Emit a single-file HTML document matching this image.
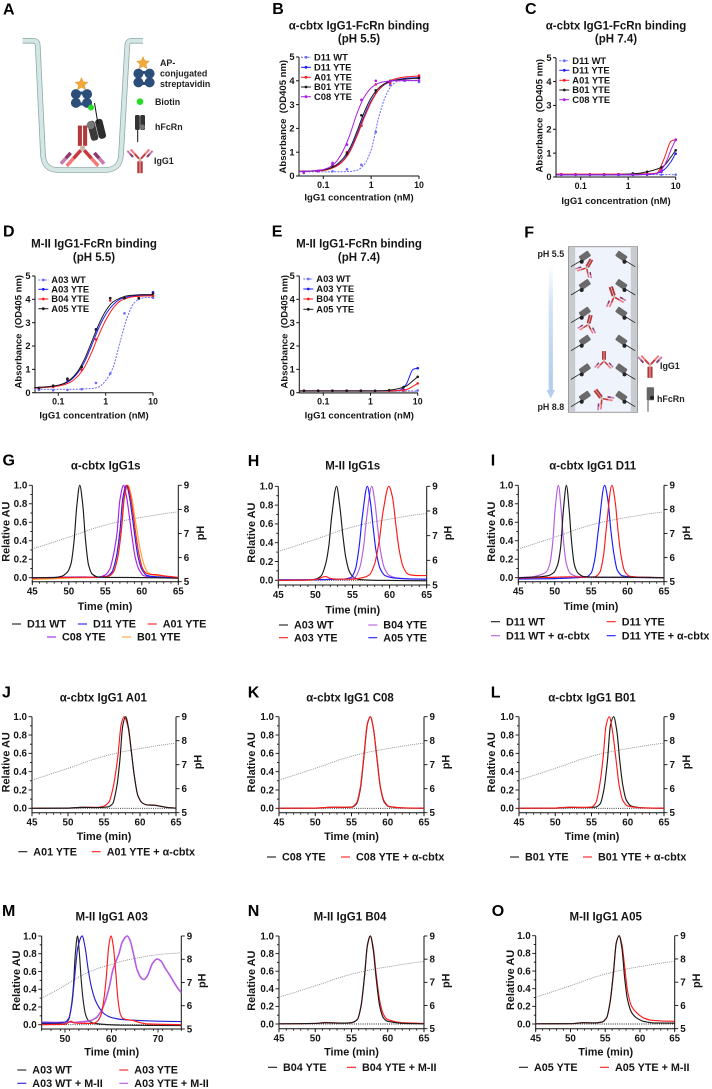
<!DOCTYPE html>
<html lang="en">
<head>
<meta charset="utf-8">
<title>IgG1-FcRn binding and FcRn affinity chromatography figure</title>
<style>
html,body{margin:0;padding:0;background:#fff;}
svg{display:block;font-family:"Liberation Sans",sans-serif;filter:blur(0.3px);}
text{font-weight:bold;fill:#151515;}
.letter{font-size:16px;fill:#000;}
.title{font-size:11.5px;text-anchor:middle;}
.axt{font-size:10.9px;text-anchor:middle;}
.axb{font-size:9.5px;text-anchor:middle;}
.ill{font-size:8.9px;fill:#222;}
</style>
</head>
<body>
<svg id="fig" width="712" height="1089" viewBox="0 0 712 1089" xmlns="http://www.w3.org/2000/svg">
<defs>
  <g id="igg-shape">
    <rect x="-3.2" y="1.5" width="2.8" height="14" fill="#b5383a"/>
    <rect x="0.4" y="1.5" width="2.8" height="14" fill="#b5383a"/>
    <rect x="-1.6" y="-2" width="3.2" height="3.5" fill="#c9b8a8"/>
    <g transform="rotate(-42)">
      <rect x="-1" y="-9.5" width="2.4" height="7.5" fill="#c63a3e"/><rect x="-1" y="-16.5" width="2.4" height="7" fill="#f47a78"/>
      <rect x="-5" y="-13" width="2.4" height="5" fill="#8a3a70"/><rect x="-5" y="-18" width="2.4" height="5" fill="#c77ab0"/>
    </g>
    <g transform="rotate(42)">
      <rect x="-1.4" y="-9.5" width="2.4" height="7.5" fill="#c63a3e"/><rect x="-1.4" y="-16.5" width="2.4" height="7" fill="#f47a78"/>
      <rect x="2.6" y="-13" width="2.4" height="5" fill="#8a3a70"/><rect x="2.6" y="-18" width="2.4" height="5" fill="#c77ab0"/>
    </g>
  </g>
  <g id="strep-shape" fill="#2b4f7a">
    <circle cx="-5.6" cy="-4.4" r="5"/><circle cx="5.6" cy="-4.4" r="5"/>
    <circle cx="-5.6" cy="4.4" r="5"/><circle cx="5.6" cy="4.4" r="5"/>
    <rect x="-1.8" y="-7" width="3.6" height="3" /><rect x="-1.8" y="4" width="3.6" height="3"/>
  </g>
  <polygon id="star-shape" points="0,-6.4 1.9,-2.2 6.4,-1.8 3,1.2 4,5.6 0,3.3 -4,5.6 -3,1.2 -6.4,-1.8 -1.9,-2.2" fill="#f2a93b" stroke="#d08a20" stroke-width=".4"/>
  <g id="receptor-shape">
    <line x1="-10.7" y1="6.7" x2="2" y2="-1" stroke="#222" stroke-width=".8"/>
    <rect x="-2.5" y="-7" width="11" height="6.4" rx="1" fill="#6a6a6a" transform="rotate(-35 3 -4)"/>
    <circle cx="0" cy="1.7" r="2" fill="#222"/>
  </g>
  <linearGradient id="ph-arrow-gradient" x1="0" y1="0" x2="0" y2="1">
    <stop offset="0" stop-color="#ffffff"/><stop offset=".35" stop-color="#d6e4f7"/><stop offset="1" stop-color="#b5cef0"/>
  </linearGradient>
</defs>

<!-- Panel letters -->
<text class="letter" x="3" y="14.3">A</text>
<text class="letter" x="272.3" y="14">B</text>
<text class="letter" x="525" y="14">C</text>
<text class="letter" x="3" y="236.7">D</text>
<text class="letter" x="271.7" y="236.7">E</text>
<text class="letter" x="524.3" y="237.3">F</text>
<text class="letter" x="2.5" y="465.7">G</text>
<text class="letter" x="247.7" y="466">H</text>
<text class="letter" x="490.7" y="465.7">I</text>
<text class="letter" x="2" y="697.7">J</text>
<text class="letter" x="247.7" y="697.7">K</text>
<text class="letter" x="490.7" y="697.7">L</text>
<text class="letter" x="2" y="916">M</text>
<text class="letter" x="247.7" y="916">N</text>
<text class="letter" x="491.7" y="916">O</text>

<!-- Panel A illustration -->
<g id="panel-a">
  <path d="M22.5,40.8 L33,40.8 Q37.5,40.8 37.7,45 L43,155 Q44,170 58,170 L105,170 Q120,170 121,155 L127.3,45 Q127.5,40.8 132,40.8 L143,40.8" fill="none" stroke="#8fa9a7" stroke-width="5.6"/>
  <path d="M22.5,40.8 L33,40.8 Q37.5,40.8 37.7,45 L43,155 Q44,170 58,170 L105,170 Q120,170 121,155 L127.3,45 Q127.5,40.8 132,40.8 L143,40.8" fill="none" stroke="#d4e7e4" stroke-width="4"/>
  <use href="#igg-shape" transform="translate(82.5,148) rotate(180) scale(1.45)"/>
  <g transform="rotate(-14 96 130)">
    <rect x="89" y="120" width="7.5" height="20" rx="3" fill="#3a3a3a"/>
    <rect x="97" y="120" width="7.5" height="20" rx="3" fill="#2d2d2d"/>
    <circle cx="92" cy="124" r="4" fill="#777"/>
  </g>
  <line x1="94.5" y1="103" x2="98" y2="124" stroke="#111" stroke-width="1"/>
  <use href="#strep-shape" transform="translate(81.5,98.5)"/>
  <use href="#star-shape" transform="translate(81.5,84)"/>
  <circle cx="91" cy="107.5" r="3" fill="#22dd22"/>

  <use href="#strep-shape" transform="translate(144,78)"/>
  <use href="#star-shape" transform="translate(143,63)"/>
  <text class="ill" x="160" y="66">AP-</text>
  <text class="ill" x="160" y="76.5">conjugated</text>
  <text class="ill" x="160" y="87">streptavidin</text>
  <circle cx="140" cy="101.7" r="3.3" fill="#22dd22"/>
  <text class="ill" x="155" y="105">Biotin</text>
  <g>
    <rect x="135" y="115" width="4.8" height="15" rx="1.5" fill="#333"/>
    <rect x="140.2" y="115" width="4.8" height="15" rx="1.5" fill="#333"/>
    <circle cx="142.3" cy="127" r="2.6" fill="#777"/>
    <line x1="137.7" y1="130" x2="137.7" y2="142" stroke="#111" stroke-width="1"/>
  </g>
  <text class="ill" x="155" y="130">hFcRn</text>
  <use href="#igg-shape" transform="translate(140,160) scale(.85)"/>
  <text class="ill" x="154" y="164">IgG1</text>
</g>

<!-- Panel F illustration -->
<g id="panel-f">
  <rect x="568.5" y="246.7" width="69" height="165.6" fill="#eff3fc" stroke="#9a9a9a" stroke-width="1"/>
  <rect x="569" y="247.2" width="6.2" height="164.6" fill="#c8ccd0"/>
  <rect x="630.8" y="247.2" width="6.2" height="164.6" fill="#c8ccd0"/>
  <use href="#receptor-shape" transform="translate(581.7,260)"/>
  <use href="#receptor-shape" transform="translate(581.7,288.3)"/>
  <use href="#receptor-shape" transform="translate(581.7,316)"/>
  <use href="#receptor-shape" transform="translate(581.7,344)"/>
  <use href="#receptor-shape" transform="translate(581.7,372.7)"/>
  <use href="#receptor-shape" transform="translate(581.7,400)"/>
  <use href="#receptor-shape" transform="translate(624.5,260) scale(-1,1)"/>
  <use href="#receptor-shape" transform="translate(624.5,288.3) scale(-1,1)"/>
  <use href="#receptor-shape" transform="translate(624.5,316) scale(-1,1)"/>
  <use href="#receptor-shape" transform="translate(624.5,344) scale(-1,1)"/>
  <use href="#receptor-shape" transform="translate(624.5,372.7) scale(-1,1)"/>
  <use href="#receptor-shape" transform="translate(624.5,400) scale(-1,1)"/>
  <use href="#igg-shape" transform="translate(586.7,267.7) rotate(210) scale(.62)"/>
  <use href="#igg-shape" transform="translate(614,296.7) rotate(162) scale(.68)"/>
  <use href="#igg-shape" transform="translate(588.3,324.3) rotate(195) scale(.62)"/>
  <use href="#igg-shape" transform="translate(604,360.7) rotate(180) scale(.62)"/>
  <use href="#igg-shape" transform="translate(601.7,398.3) rotate(143) scale(.68)"/>
  <rect x="548.7" y="264" width="4.2" height="112" fill="url(#ph-arrow-gradient)"/>
  <polygon points="546.5,390 555,390 550.8,398.5" fill="#b5cef0"/>
  <rect x="548.7" y="375" width="4.2" height="16" fill="#b5cef0"/>
  <text class="ill" x="537.5" y="257">pH 5.5</text>
  <text class="ill" x="537.5" y="410">pH 8.8</text>
  <use href="#igg-shape" transform="translate(650,365.5) scale(.8)"/>
  <text class="ill" x="660" y="369">IgG1</text>
  <g>
    <rect x="646.7" y="387.3" width="7.3" height="13" rx="1" fill="#666"/>
    <circle cx="652" cy="397.7" r="2" fill="#222"/>
    <line x1="648" y1="400" x2="648" y2="411.7" stroke="#555" stroke-width="1"/>
  </g>
  <text class="ill" x="657" y="402">hFcRn</text>
</g>

<!-- Chart titles -->
<text class="title" x="359" y="29.3">α-cbtx IgG1-FcRn binding</text>
<text class="title" x="359" y="42.7">(pH 5.5)</text>
<text class="title" x="616" y="29.3">α-cbtx IgG1-FcRn binding</text>
<text class="title" x="616" y="42.7">(pH 7.4)</text>
<text class="title" x="94" y="247.3">M-II IgG1-FcRn binding</text>
<text class="title" x="94" y="261">(pH 5.5)</text>
<text class="title" x="359" y="247.3">M-II IgG1-FcRn binding</text>
<text class="title" x="359" y="261">(pH 7.4)</text>
<text class="title" x="105.7" y="469.3">α-cbtx IgG1s</text>
<text class="title" x="352.7" y="469.3">M-II IgG1s</text>
<text class="title" x="592.7" y="469.3">α-cbtx IgG1 D11</text>
<text class="title" x="103.3" y="701.7">α-cbtx IgG1 A01</text>
<text class="title" x="350" y="701.7">α-cbtx IgG1 C08</text>
<text class="title" x="592" y="701.7">α-cbtx IgG1 B01</text>
<text class="title" x="111.7" y="920.7">M-II IgG1 A03</text>
<text class="title" x="350" y="920.7">M-II IgG1 B04</text>
<text class="title" x="605.7" y="920.7">M-II IgG1 A05</text>

<!-- Binding axis titles -->
<text class="axb" x="359" y="200.7">IgG1 concentration (nM)</text>
<text class="axb" x="616" y="204">IgG1 concentration (nM)</text>
<text class="axb" x="94" y="418.3">IgG1 concentration (nM)</text>
<text class="axb" x="359.3" y="418.3">IgG1 concentration (nM)</text>
<text class="axb" transform="translate(286,116.7) rotate(-90)" xml:space="preserve">Absorbance  (OD405 nm)</text>
<text class="axb" transform="translate(542.7,115.7) rotate(-90)" xml:space="preserve">Absorbance  (OD405 nm)</text>
<text class="axb" transform="translate(21.7,331.7) rotate(-90)" xml:space="preserve">Absorbance  (OD405 nm)</text>
<text class="axb" transform="translate(287.7,331.7) rotate(-90)" xml:space="preserve">Absorbance  (OD405 nm)</text>

<!-- Chromatogram axis titles -->
<text class="axt" x="105" y="610">Time (min)</text>
<text class="axt" x="352.7" y="613.3">Time (min)</text>
<text class="axt" x="591" y="610">Time (min)</text>
<text class="axt" x="104" y="840">Time (min)</text>
<text class="axt" x="351.5" y="840">Time (min)</text>
<text class="axt" x="592" y="840">Time (min)</text>
<text class="axt" x="111.7" y="1055.7">Time (min)</text>
<text class="axt" x="351.5" y="1055.7">Time (min)</text>
<text class="axt" x="605.7" y="1055.7">Time (min)</text>

<text class="axt" transform="translate(9.3,531.7) rotate(-90)">Relative AU</text>
<text class="axt" transform="translate(255,532.7) rotate(-90)">Relative AU</text>
<text class="axt" transform="translate(495,531.7) rotate(-90)">Relative AU</text>
<text class="axt" transform="translate(9.3,762.3) rotate(-90)">Relative AU</text>
<text class="axt" transform="translate(255,762.3) rotate(-90)">Relative AU</text>
<text class="axt" transform="translate(495,762.3) rotate(-90)">Relative AU</text>
<text class="axt" transform="translate(20,980.7) rotate(-90)">Relative AU</text>
<text class="axt" transform="translate(255,980.7) rotate(-90)">Relative AU</text>
<text class="axt" transform="translate(514,980) rotate(-90)">Relative AU</text>

<text class="axt" transform="translate(204,533) rotate(-90)">pH</text>
<text class="axt" transform="translate(451.7,533) rotate(-90)">pH</text>
<text class="axt" transform="translate(690,533) rotate(-90)">pH</text>
<text class="axt" transform="translate(201.7,762) rotate(-90)">pH</text>
<text class="axt" transform="translate(449.5,762) rotate(-90)">pH</text>
<text class="axt" transform="translate(690,762) rotate(-90)">pH</text>
<text class="axt" transform="translate(205.7,980.7) rotate(-90)">pH</text>
<text class="axt" transform="translate(449.5,980.7) rotate(-90)">pH</text>
<text class="axt" transform="translate(700,980.7) rotate(-90)">pH</text>
</svg>

<script>
/* ---------- Binding data ---------- */
const concentrations = [0.039,0.078,0.156,0.3125,0.625,1.25,2.5,5,10];
const fitConcentrations = [0.031,0.044,0.0625,0.088,0.125,0.177,0.25,0.354,0.5,0.707,1,1.414,2,2.83,4,5.66,8,10];
const bindingXTicks = [0.1,1,10];
const bindingXTickLabels = ['0.1','1','10'];
const bindingYTicks = [0,1,2,3,4,5];

const namesB = ['D11 WT','D11 YTE','A01 YTE','B01 YTE','C08 YTE'];
const pointsB_WT  = [.13,.22,.2,.28,.47,1.85,3.82,4.0,3.95];
const pointsB_D11 = [.15,.2,.5,.88,2.12,3.5,3.95,4.02,4.15];
const pointsB_A01 = [.18,.22,.45,1.0,2.12,3.85,3.9,4.05,4.22];
const pointsB_B01 = [.15,.2,.4,.95,2.55,3.6,4.0,4.05,4.12];
const pointsB_C08 = [.15,.2,.55,1.32,3.2,4.0,3.98,4.02,4.02];
const fitB_WT  = [.18,.18,.18,.18,.18,.18,.18,.19,.24,.46,1.1,2.4,3.35,3.85,4.0,4.0,4.0,4.0];
const fitB_D11 = [.19,.2,.21,.23,.28,.4,.62,1.05,1.72,2.5,3.15,3.6,3.87,4.0,4.07,4.11,4.13,4.14];
const fitB_A01 = [.19,.2,.21,.22,.27,.38,.6,1.0,1.65,2.42,3.1,3.6,3.9,4.05,4.13,4.17,4.19,4.2];
const fitB_B01 = [.2,.2,.22,.24,.3,.44,.7,1.15,1.85,2.65,3.28,3.68,3.9,4.0,4.05,4.08,4.1,4.1];
const fitB_C08 = [.19,.2,.22,.25,.34,.55,1.0,1.7,2.6,3.3,3.7,3.9,3.97,4.0,4.0,4.02,4.02,4.02];

const namesC = ['D11 WT','D11 YTE','A01 YTE','B01 YTE','C08 YTE'];
const pointsC_WT  = [.1,.1,.1,.1,.1,.1,.1,.1,.1];
const pointsC_D11 = [.09,.09,.09,.09,.09,.09,.1,.22,.98];
const pointsC_A01 = [.12,.12,.12,.12,.12,.13,.14,.3,1.57];
const pointsC_B01 = [.1,.1,.1,.1,.11,.15,.22,.4,1.12];
const pointsC_C08 = [.1,.1,.1,.1,.1,.1,.12,.25,1.55];
const fitC_WT  = [.1,.1,.1,.1,.1,.1,.1,.1,.1,.1,.1,.1,.1,.1,.1,.1,.1,.1];
const fitC_D11 = [.09,.09,.09,.09,.09,.09,.09,.09,.09,.09,.09,.09,.1,.11,.15,.3,.65,1.0];
const fitC_A01 = [.12,.12,.12,.12,.12,.12,.12,.12,.12,.12,.12,.12,.13,.14,.17,.75,1.5,1.57];
const fitC_B01 = [.1,.1,.1,.1,.1,.1,.1,.1,.1,.11,.12,.14,.18,.24,.33,.47,.85,1.12];
const fitC_C08 = [.1,.1,.1,.1,.1,.1,.1,.1,.1,.1,.1,.1,.11,.12,.15,.45,1.15,1.57];

const namesD = ['A03 WT','A03 YTE','B04 YTE','A05 YTE'];
const pointsD_WT  = [.12,.1,.12,.15,.42,.82,3.4,4.02,4.07];
const pointsD_A03 = [.2,.3,.55,1.12,2.72,4.05,4.05,4.05,4.3];
const pointsD_B04 = [.2,.25,.6,.98,2.28,3.95,4.05,4.05,4.15];
const pointsD_A05 = [.2,.3,.6,1.1,2.7,4.05,4.05,4.05,4.25];
const fitD_WT  = [.15,.15,.15,.15,.15,.15,.15,.16,.18,.24,.52,1.05,2.15,3.2,3.85,4.05,4.08,4.08];
const fitD_A03 = [.2,.22,.24,.28,.36,.52,.82,1.3,2.0,2.75,3.35,3.75,4.0,4.1,4.15,4.17,4.18,4.18];
const fitD_B04 = [.2,.22,.24,.27,.33,.44,.68,1.08,1.7,2.45,3.1,3.6,3.92,4.05,4.12,4.14,4.15,4.15];
const fitD_A05 = [.22,.24,.26,.3,.38,.56,.88,1.42,2.15,2.9,3.5,3.88,4.05,4.15,4.18,4.2,4.2,4.2];

const namesE = ['A03 WT','A03 YTE','B04 YTE','A05 YTE'];
const pointsE_WT  = [.09,.09,.09,.09,.09,.08,.09,.09,.1];
const pointsE_A03 = [.08,.08,.08,.08,.08,.08,.09,.13,1.05];
const pointsE_B04 = [.08,.08,.08,.08,.08,.08,.08,.1,.4];
const pointsE_A05 = [.08,.08,.08,.08,.08,.08,.11,.24,.68];
const fitE_WT  = [.08,.08,.08,.08,.08,.08,.08,.08,.08,.08,.08,.08,.08,.08,.08,.08,.08,.08];
const fitE_A03 = [.08,.08,.08,.08,.08,.08,.08,.08,.08,.08,.08,.08,.08,.08,.1,.35,1.0,1.05];
const fitE_B04 = [.08,.08,.08,.08,.08,.08,.08,.08,.08,.08,.08,.08,.08,.08,.1,.13,.28,.4];
const fitE_A05 = [.08,.08,.08,.08,.08,.08,.08,.08,.08,.08,.08,.08,.09,.12,.18,.28,.52,.68];

/* ---------- Chromatogram data: [minutes, relative AU] ---------- */
const pHTimes = [45,47,49,51,53,55,57,59,61,63,65];
const pHValues = [6.36,6.55,6.75,6.95,7.17,7.35,7.5,7.62,7.72,7.82,7.9];
const pHTimesM = [45,48,51,54,57,60,63,66,70,75];
const pHValuesM = [6.33,6.65,7.0,7.35,7.6,7.78,7.95,8.07,8.2,8.28];
const timeTicks = [45,50,55,60,65];
const timeTicksM = [50,60,70];
const auTicks = [0,.2,.4,.6,.8,1];
const pHTicks = [5,6,7,8,9];

const namesG = ['B01 YTE','C08 YTE','D11 YTE','A01 YTE','D11 WT'];
const g_D11WT = [[45,0],[48,.002],[49,.015],[49.8,.06],[50.3,.15],[50.7,.38],[51.1,.78],[51.5,1],[51.9,.8],[52.3,.4],[52.7,.14],[53.2,.04],[54,.008],[56,.003],[60,.002],[65,-.005]];
const g_D11YTE = [[45,-.005],[52,.008],[54,.004],[55.2,.015],[55.9,.06],[56.5,.22],[57,.5],[57.4,.86],[57.9,1],[58.3,.88],[58.7,.66],[59.1,.42],[59.5,.22],[60,.09],[60.7,.025],[62,.01],[65,0]];
const g_A01 = [[45,-.005],[52,.006],[54,.004],[55.4,.015],[56.1,.06],[56.7,.22],[57.2,.52],[57.6,.88],[58,1],[58.4,.9],[58.8,.7],[59.2,.46],[59.6,.26],[60.1,.1],[60.6,.05],[61.2,.035],[62,.033],[63,.02],[64,.012],[65,.002]];
const g_C08 = [[45,0],[52,.006],[54,.006],[55,.03],[55.6,.09],[56.1,.24],[56.6,.48],[57,.84],[57.5,1],[57.9,.88],[58.3,.66],[58.7,.42],[59.1,.22],[59.6,.09],[60.3,.02],[61.5,.006],[65,0]];
const g_B01 = [[45,-.02],[50,-.005],[54,.005],[55.4,.015],[56.1,.06],[56.7,.22],[57.2,.5],[57.7,.9],[58.1,1],[58.6,.88],[59,.68],[59.4,.48],[59.8,.3],[60.3,.14],[60.8,.06],[61.5,.03],[63,.015],[65,.002]];

const namesH = ['A03 WT','B04 YTE','A05 YTE','A03 YTE'];
const h_A03WT = [[45,0],[49,.003],[50,.012],[50.8,.05],[51.4,.18],[51.8,.36],[52.2,.68],[52.85,1],[53.3,.78],[53.7,.48],[54.1,.24],[54.6,.09],[55.2,.03],[56,.008],[58,0],[65,-.005]];
const h_B04 = [[45,.005],[50,.006],[53,.012],[54.5,.015],[55.3,.03],[56,.14],[56.5,.36],[56.9,.66],[57.6,1],[58,.84],[58.4,.55],[58.8,.3],[59.3,.13],[60,.05],[61,.025],[63,.015],[65,.012]];
const h_A05 = [[45,.005],[50,.006],[53,.012],[54,.015],[54.8,.03],[55.4,.12],[55.9,.36],[56.3,.66],[57,1],[57.4,.84],[57.8,.55],[58.2,.3],[58.7,.13],[59.4,.05],[60.5,.025],[62.5,.015],[65,.012]];
const h_A03 = [[45,0],[49,.002],[50.3,.01],[51,.035],[51.4,.04],[52,.02],[53,.012],[55,.012],[56.5,.03],[57.3,.06],[58,.18],[58.6,.42],[59.1,.72],[59.9,1],[60.4,.88],[60.8,.62],[61.3,.32],[61.8,.15],[62.4,.07],[63,.055],[64,.05],[65,.05]];

const namesI = ['D11 WT','D11 YTE','D11 WT + α-cbtx','D11 YTE + α-cbtx'];
const i_WT = [[45,0],[48,.01],[49,.02],[49.8,.05],[50.4,.14],[50.8,.32],[51.2,.74],[51.6,1],[52,.72],[52.3,.4],[52.7,.14],[53.2,.05],[54,.012],[56,.005],[60,.005],[65,0]];
const i_YTE = [[45,-.005],[50,.005],[52,.01],[54,.006],[55.5,.01],[56.2,.06],[56.7,.24],[57.1,.55],[57.85,1],[58.3,.82],[58.7,.5],[59.1,.24],[59.6,.07],[60.3,.015],[62,.005],[65,.002]];
const i_WTplus = [[45,.002],[47,.01],[48,.03],[48.8,.06],[49.3,.14],[49.7,.36],[50.1,.78],[50.5,1],[50.9,.72],[51.2,.4],[51.6,.15],[52.1,.05],[53,.015],[54,.008],[56,.005],[65,0]];
const i_YTEplus = [[45,-.015],[50,-.01],[53,0],[54.3,.008],[55,.05],[55.5,.2],[56,.52],[56.85,1],[57.3,.84],[57.7,.52],[58.1,.27],[58.6,.08],[59.3,.02],[61,.005],[65,0]];

const namesJ = ['A01 YTE','A01 YTE + α-cbtx'];
const j_A01 = [[45,0],[50,.002],[52,.01],[54,.008],[55.5,.015],[56.2,.05],[56.8,.25],[57.2,.52],[57.6,.9],[58,1],[58.4,.88],[58.8,.62],[59.2,.36],[59.7,.14],[60.3,.06],[61,.037],[62,.033],[63,.02],[64,.007],[65,.002]];
const j_A01plus = [[45,.001],[50,.003],[52,.01],[54,.01],[55,.025],[55.7,.07],[56.3,.24],[56.9,.55],[57.4,.92],[57.8,1],[58.3,.9],[58.8,.62],[59.2,.36],[59.7,.14],[60.3,.06],[61,.037],[62,.035],[63,.02],[64,.008],[65,.002]];

const namesK = ['C08 YTE','C08 YTE + α-cbtx'];
const k_C08 = [[45,0],[50,.002],[52.5,.012],[54,.01],[55,.012],[55.7,.05],[56.2,.2],[56.7,.55],[57.2,.92],[57.6,1],[58,.88],[58.5,.55],[59,.22],[59.5,.07],[60.2,.018],[62,.004],[65,.001]];
const k_C08plus = [[45,.001],[50,.003],[52.5,.012],[54,.011],[55,.015],[55.7,.06],[56.2,.22],[56.7,.57],[57.2,.93],[57.6,1],[58,.88],[58.5,.56],[59,.23],[59.5,.08],[60.2,.02],[62,.005],[65,.001]];

const namesL = ['B01 YTE','B01 YTE + α-cbtx'];
const l_B01 = [[45,0],[50,.002],[52,.01],[54,.008],[55.5,.012],[56.2,.05],[56.7,.2],[57.2,.52],[57.6,.9],[58.05,1],[58.5,.84],[58.9,.52],[59.3,.26],[59.8,.09],[60.5,.025],[62,.005],[65,.001]];
const l_B01plus = [[45,.001],[50,.003],[52,.012],[54,.01],[55,.015],[55.6,.06],[56.1,.24],[56.6,.55],[57,.9],[57.45,1],[57.9,.84],[58.4,.52],[58.8,.26],[59.3,.09],[60,.025],[62,.005],[65,.001]];

const namesM = ['A03 WT','A03 YTE','A03 WT + M-II','A03 YTE + M-II'];
const m_WT = [[45,.01],[48,.012],[50,.02],[50.8,.06],[51.3,.18],[51.8,.42],[52.2,.78],[52.7,1],[53.1,.8],[53.5,.5],[53.9,.28],[54.4,.12],[55,.05],[56,.02],[58,.005],[62,-.005],[75,-.01]];
const m_WTplus = [[45,.02],[48,.02],[50,.03],[50.8,.07],[51.5,.24],[52.1,.55],[52.8,.88],[53.7,1],[54.3,.88],[55,.62],[55.7,.42],[56.5,.28],[57.5,.18],[58.5,.12],[60,.08],[62,.06],[65,.05],[70,.04],[75,.035]];
const m_YTE = [[45,0],[50,.005],[51.3,.04],[52,.02],[54,.015],[56,.015],[57,.04],[57.8,.12],[58.4,.3],[58.9,.55],[59.4,.88],[59.9,1],[60.4,.88],[60.9,.6],[61.4,.28],[61.9,.12],[62.5,.07],[63.5,.055],[64.5,.05],[66,.025],[68,.008],[75,0]];
const m_YTEplus = [[45,.03],[48,.025],[50,.025],[51,.03],[52,.025],[53,.03],[55,.04],[56.5,.07],[57.5,.13],[58.5,.24],[59.5,.42],[60.3,.62],[61,.72],[61.6,.8],[62.3,.93],[63.4,1],[64,.95],[64.8,.78],[65.5,.62],[66.5,.52],[67,.51],[67.8,.56],[68.8,.69],[69.8,.74],[70.6,.72],[71.5,.64],[72.5,.56],[74,.43],[75,.36]];

const namesN = ['B04 YTE','B04 YTE + M-II'];
const n_B04 = [[45,.002],[50,.006],[51.5,.015],[52.5,.012],[54,.01],[55,.015],[55.8,.05],[56.3,.2],[56.8,.55],[57.2,.9],[57.6,1],[58,.84],[58.4,.52],[58.9,.2],[59.4,.07],[60,.03],[62,.008],[65,.002]];
const n_B04plus = [[45,.002],[50,.006],[51.5,.017],[52.5,.013],[54,.011],[55,.016],[55.8,.05],[56.3,.19],[56.8,.54],[57.2,.89],[57.6,1],[58,.87],[58.4,.57],[58.9,.26],[59.4,.11],[60,.05],[62,.015],[65,.006]];

const namesO = ['A05 YTE','A05 YTE + M-II'];
const o_A05 = [[45,.002],[50,.004],[52,.015],[53.5,.012],[54.5,.02],[55.2,.07],[55.7,.25],[56.2,.6],[56.6,.92],[57,1],[57.4,.86],[57.8,.52],[58.2,.28],[58.8,.13],[59.5,.07],[60.5,.03],[62,.012],[65,.01]];
const o_A05plus = [[45,.002],[50,.004],[52,.015],[53.5,.012],[54.5,.022],[55.2,.07],[55.7,.24],[56.2,.58],[56.6,.92],[57,1],[57.4,.9],[57.8,.65],[58.2,.38],[58.8,.2],[59.5,.13],[60.5,.07],[61.5,.045],[63,.035],[65,.03]];

/* ---------- Drawing ---------- */
const NS = 'http://www.w3.org/2000/svg';
const fig = document.getElementById('fig');

function node(tag, name, attrs, parent) {
  const el = document.createElementNS(NS, tag);
  
  
  for (const k in attrs) { el.setAttribute(k, attrs[k]); }
  parent.appendChild(el);
  return el;
}
function label(name, str, x, y, size, anchor, parent) {
  const t = node('text', name, {x: x, y: y, 'font-size': size, 'text-anchor': anchor}, parent);
  t.textContent = str;
  return t;
}
function seg(name, x1, y1, x2, y2, w, col, parent) {
  return node('line', name, {x1: x1, y1: y1, x2: x2, y2: y2, stroke: col, 'stroke-width': w}, parent);
}
/* Monotone cubic path through pixel points */
function smoothPath(p) {
  const n = p.length, dx = [], m = [], t = [];
  for (let i = 0; i < n - 1; i++) { dx[i] = p[i+1][0] - p[i][0]; m[i] = (p[i+1][1] - p[i][1]) / dx[i]; }
  t[0] = m[0]; t[n-1] = m[n-2];
  for (let i = 1; i < n - 1; i++) {
    t[i] = (m[i-1] * m[i] <= 0) ? 0 : 2 * m[i-1] * m[i] / (m[i-1] + m[i]);
  }
  let d = 'M' + p[0][0].toFixed(2) + ',' + p[0][1].toFixed(2);
  for (let i = 0; i < n - 1; i++) {
    const h = dx[i] / 3;
    d += 'C' + (p[i][0] + h).toFixed(2) + ',' + (p[i][1] + t[i] * h).toFixed(2) + ' ' +
         (p[i+1][0] - h).toFixed(2) + ',' + (p[i+1][1] - t[i+1] * h).toFixed(2) + ' ' +
         p[i+1][0].toFixed(2) + ',' + p[i+1][1].toFixed(2);
  }
  return d;
}

function drawBinding(id, box, names, pointSets, fitSets, styles, legend) {
  const g = node('g', 'binding-chart-' + id, {}, fig);
  const dec = (box.x10 - box.x01) / 2;
  const xOf = c => box.x01 + (Math.log10(c) + 1) * dec;
  const yOf = v => box.y0 - v * (box.y0 - box.y5) / 5;
  seg('x-axis-' + id, box.left, box.y0, box.x10, box.y0, box.xw || 1, box.xc || '#111', g);
  seg('y-axis-' + id, box.left, box.y0 + .5, box.left, box.y5, 1, '#111', g);
  bindingYTicks.forEach(v => {
    seg('y-tick-' + id, box.left - 3, yOf(v), box.left, yOf(v), 1, '#111', g);
    label('y-tick-label-' + id, String(v), box.left - 4.5, yOf(v) + 3.2, 9.3, 'end', g);
  });
  bindingXTicks.forEach((v, i) => {
    seg('x-tick-' + id, xOf(v), box.y0, xOf(v), box.y0 + 3, 1, '#111', g);
    label('x-tick-label-' + id, bindingXTickLabels[i], xOf(v), box.y0 + 11.8, 8.8, 'middle', g);
  });
  fitSets.forEach((fit, s) => {
    const st = styles[s];
    const pts = fit.map((v, i) => [xOf(fitConcentrations[i]), yOf(v)]);
    const attrs = {d: smoothPath(pts), fill: 'none', stroke: st.color, 'stroke-width': st.w || 1};
    if (st.dash) { attrs['stroke-dasharray'] = st.dash; }
    node('path', 'fit-curve-' + id + '-' + names[s].toLowerCase().replace(/\s+/g, '-'), attrs, g);
    pointSets[s].forEach((v, i) => {
      node('circle', 'data-point-' + id + '-' + names[s].toLowerCase().replace(/\s+/g, '-'), {cx: xOf(concentrations[i]), cy: yOf(v), r: 1.3, fill: st.color}, g);
    });
    const ly = legend.ys[s];
    const l = node('line', 'legend-line-' + id, {x1: legend.x, y1: ly, x2: legend.x + 10, y2: ly, stroke: st.color, 'stroke-width': st.w || 1}, g);
    if (st.dash) { l.setAttribute('stroke-dasharray', st.dash); }
    node('circle', 'legend-marker-' + id, {cx: legend.x + 5, cy: ly, r: 1.4, fill: st.color}, g);
    label('legend-label-' + id, names[s], legend.x + 13, ly + 3.2, 9.4, 'start', g);
  });
}

function drawChrom(id, box, names, curves, styles, legendPos, opt) {
  opt = opt || {};
  const g = node('g', 'chromatogram-' + id, {}, fig);
  const xMin = 45, xMax = opt.xMax || 65;
  const xOf = t => box.left + (t - xMin) * (box.right - box.left) / (xMax - xMin);
  const yOf = v => box.zero - v * (box.zero - box.top);
  const pOf = v => box.bottom - (v - 5) * (box.bottom - box.top) / 4;
  seg('x-axis-' + id, box.left - .5, box.bottom, box.right + .5, box.bottom, 1, '#111', g);
  seg('y-axis-' + id, box.left, box.bottom, box.left, box.top, 1, '#111', g);
  seg('ph-axis-' + id, box.right, box.bottom, box.right, box.top, 1, '#111', g);
  for (let k = 0; k <= 10; k++) {
    const v = k / 10;
    seg('y-minor-tick-' + id, box.left - (k % 2 ? 2 : 3.5), yOf(v), box.left, yOf(v), .9, '#111', g);
  }
  auTicks.forEach(v => {
    label('y-tick-label-' + id, v.toFixed(1), box.left - 5, yOf(v) + 3.3, 9.8, 'end', g);
  });
  pHTicks.forEach(v => {
    seg('ph-tick-' + id, box.right, pOf(v), box.right + 3.5, pOf(v), .9, '#111', g);
    label('ph-tick-label-' + id, String(v), box.right + 5.5, pOf(v) + 3.3, 9.8, 'start', g);
  });
  const ticks = opt.ticks || timeTicks;
  for (let t = xMin; t <= xMax; t += (opt.minor || 1)) {
    seg('x-minor-tick-' + id, xOf(t), box.bottom, xOf(t), box.bottom + 2, .8, '#111', g);
  }
  ticks.forEach(t => {
    seg('x-tick-' + id, xOf(t), box.bottom, xOf(t), box.bottom + 3.5, .9, '#111', g);
    label('x-tick-label-' + id, String(t), xOf(t), box.bottom + 13, 9.8, 'middle', g);
  });
  seg('zero-line-' + id, box.left, yOf(0), box.right, yOf(0), .9, '#222', g).setAttribute('stroke-dasharray', '1 1.2');
  const pts = (opt.pHT || pHTimes).map((t, i) => [xOf(t), pOf((opt.pHV || pHValues)[i])]);
  node('path', 'ph-gradient-line-' + id, {d: smoothPath(pts), fill: 'none', stroke: '#8f8f8f', 'stroke-width': .9, 'stroke-dasharray': '1 1'}, g);
  const order = opt.order || curves.map((c, i) => i);
  order.forEach(s => {
    const st = styles[s];
    const p = curves[s].map(d => [xOf(d[0]), yOf(d[1])]);
    node('path', 'trace-' + id + '-' + names[s].toLowerCase().replace(/[^a-z0-9]+/g, '-'), {d: smoothPath(p), fill: 'none', stroke: st.color, 'stroke-width': st.w || 1.15}, g);
  });
  names.forEach((nm, s) => {
    const lp = legendPos[s];
    seg('legend-line-' + id, lp[0], lp[1], lp[0] + 9, lp[1], 1.1, styles[s].color, g);
    label('legend-label-' + id, nm, lp[0] + 15, lp[1] + 3.7, 10.8, 'start', g);
  });
}

const WTBLUE = '#6a6aff', BLUE = '#1c1cff', RED = '#ff1a1a', BLACK = '#1a1a1a', PURPLE = '#a91fe6', LILAC = '#b65ce0', ORANGE = '#ffa33a', NAVY = '#2a1fd0';

drawBinding('b', {left: 299, x01: 323.3, x10: 419, y0: 176, y5: 57},
  namesB,
  [pointsB_WT, pointsB_D11, pointsB_A01, pointsB_B01, pointsB_C08],
  [fitB_WT, fitB_D11, fitB_A01, fitB_B01, fitB_C08],
  [{color: WTBLUE, dash: '2 1.2'}, {color: BLUE}, {color: RED}, {color: BLACK}, {color: PURPLE}],
  {x: 301, ys: [57.3, 67.3, 77.3, 87, 96.7]});

drawBinding('c', {left: 556, x01: 580.7, x10: 675.7, y0: 177, y5: 57.7},
  namesC,
  [pointsC_WT, pointsC_D11, pointsC_A01, pointsC_B01, pointsC_C08],
  [fitC_WT, fitC_D11, fitC_A01, fitC_B01, fitC_C08],
  [{color: WTBLUE, dash: '2 1.2'}, {color: BLUE}, {color: RED}, {color: BLACK}, {color: PURPLE}],
  {x: 559.3, ys: [60.7, 70.3, 80.3, 90, 99.7]});

drawBinding('d', {left: 35, x01: 58.3, x10: 153, y0: 392.7, y5: 276},
  namesD,
  [pointsD_WT, pointsD_A03, pointsD_B04, pointsD_A05],
  [fitD_WT, fitD_A03, fitD_B04, fitD_A05],
  [{color: WTBLUE, dash: '2 1.2'}, {color: BLUE}, {color: RED}, {color: BLACK}],
  {x: 38.3, ys: [280, 289.3, 299, 308.7]});

drawBinding('e', {left: 299.3, x01: 323.3, x10: 417.7, y0: 392.7, y5: 276, xw: 2, xc: '#6f6f6f'},
  namesE,
  [pointsE_WT, pointsE_A03, pointsE_B04, pointsE_A05],
  [fitE_WT, fitE_A03, fitE_B04, fitE_A05],
  [{color: WTBLUE, dash: '2 1.2'}, {color: BLUE}, {color: RED}, {color: BLACK}],
  {x: 303.3, ys: [279, 289, 299, 309.3]});

drawChrom('g', {left: 32.3, right: 178.3, top: 485.3, zero: 577.7, bottom: 581.7},
  namesG, [g_B01, g_C08, g_D11YTE, g_A01, g_D11WT],
  [{color: ORANGE}, {color: PURPLE}, {color: BLUE}, {color: RED}, {color: BLACK}],
  [[122, 637], [47, 637], [78, 624], [147.7, 624], [12, 624]]);

drawChrom('h', {left: 278.3, right: 426.7, top: 486.3, zero: 580.3, bottom: 585},
  namesH, [h_A03WT, h_B04, h_A05, h_A03],
  [{color: BLACK}, {color: LILAC}, {color: BLUE}, {color: RED}],
  [[279, 625], [368.3, 625], [368.3, 637.7], [279, 637.7]]);

drawChrom('i', {left: 518.3, right: 664, top: 485.3, zero: 577.7, bottom: 581.7},
  namesI, [i_WT, i_YTE, i_WTplus, i_YTEplus],
  [{color: BLACK}, {color: RED}, {color: LILAC}, {color: BLUE}],
  [[491, 621.7], [606.7, 621.7], [491, 635.7], [606.7, 635.7]],
  {order: [2, 3, 1, 0]});

drawChrom('j', {left: 32, right: 176, top: 716.7, zero: 808.3, bottom: 812.7},
  namesJ, [j_A01, j_A01plus], [{color: BLACK}, {color: RED}],
  [[18.3, 851.7], [91.7, 851.7]], {order: [1, 0]});

drawChrom('k', {left: 279, right: 424, top: 716.7, zero: 808.3, bottom: 812.7},
  namesK, [k_C08, k_C08plus], [{color: BLACK}, {color: RED}],
  [[267, 857], [341, 857]]);

drawChrom('l', {left: 519, right: 664, top: 716.7, zero: 808.3, bottom: 812.7},
  namesL, [l_B01, l_B01plus], [{color: BLACK}, {color: RED}],
  [[510, 857], [583, 857]]);

drawChrom('m', {left: 41.7, right: 181.3, top: 936, zero: 1024.7, bottom: 1029},
  namesM, [m_WT, m_YTE, m_WTplus, m_YTEplus],
  [{color: '#222'}, {color: RED}, {color: NAVY}, {color: LILAC, w: 1.6}],
  [[17.3, 1070], [119.3, 1070], [17.3, 1083.3], [119.3, 1083.3]],
  {xMax: 75, ticks: timeTicksM, minor: 2, pHT: pHTimesM, pHV: pHValuesM, order: [0, 3, 2, 1]});

drawChrom('n', {left: 279, right: 424, top: 936, zero: 1024, bottom: 1028.7},
  namesN, [n_B04, n_B04plus], [{color: BLACK}, {color: RED}],
  [[268, 1067.3], [347, 1067.3]], {order: [1, 0]});

drawChrom('o', {left: 535.7, right: 674.7, top: 935.7, zero: 1024, bottom: 1028.7},
  namesO, [o_A05, o_A05plus], [{color: BLACK}, {color: RED}],
  [[519, 1067.3], [600, 1067.3]], {order: [1, 0]});
</script>
</body>
</html>
